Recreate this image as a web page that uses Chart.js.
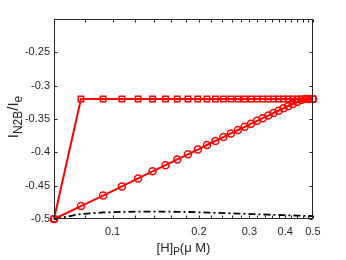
<!DOCTYPE html>
<html>
<head>
<meta charset="utf-8">
<script src="https://cdn.jsdelivr.net/npm/chart.js@4.4.0/dist/chart.umd.min.js"></script>
<style>
  html, body { margin: 0; padding: 0; background: #fff; }
  #wrap { width: 346px; height: 260px; }
</style>
</head>
<body>
<div id="wrap"><canvas id="myChart" width="346" height="260"></canvas></div>
<script>
// [H]_P values (uM) shared by all three curves
const hConc = [0.0625, 0.0776, 0.0927, 0.1078, 0.1228, 0.1379, 0.153, 0.1681, 0.1832, 0.1983,
    0.2134, 0.2284, 0.2435, 0.2586, 0.2737, 0.2888, 0.3039, 0.319, 0.3341, 0.3491,
    0.3642, 0.3793, 0.3944, 0.4095, 0.4246, 0.4397, 0.4547, 0.4698, 0.4849, 0.5];

const squareVals = [-0.5, -0.32, -0.32, -0.32, -0.32, -0.32, -0.32, -0.32, -0.32, -0.32,
    -0.32, -0.32, -0.32, -0.32, -0.32, -0.32, -0.32, -0.32, -0.32, -0.32,
    -0.32, -0.32, -0.32, -0.32, -0.32, -0.32, -0.32, -0.32, -0.32, -0.32];

const circleVals = [-0.5, -0.4806, -0.4648, -0.4512, -0.4392, -0.4285, -0.4192, -0.4106, -0.403, -0.3958,
    -0.389, -0.3829, -0.3771, -0.3717, -0.3665, -0.3617, -0.3571, -0.3528, -0.3487, -0.3448,
    -0.341, -0.3375, -0.334, -0.3307, -0.3275, -0.3244, -0.3215, -0.32, -0.32, -0.32];

const dashVals = [-0.5, -0.4925, -0.4902, -0.4893, -0.489, -0.4889, -0.489, -0.4892, -0.4895, -0.4899,
    -0.4903, -0.4907, -0.4911, -0.4915, -0.4919, -0.4922, -0.4926, -0.4929, -0.4932, -0.4935,
    -0.4938, -0.494, -0.4943, -0.4945, -0.4947, -0.4949, -0.4951, -0.4953, -0.4955, -0.4957];

const xTicks = [0.08, 0.1, 0.12, 0.14, 0.16, 0.18, 0.2, 0.22, 0.24, 0.26, 0.28, 0.3,
    0.32, 0.34, 0.36, 0.38, 0.4, 0.42, 0.44, 0.46, 0.48, 0.5];
const xTickLabels = ["0.1", "0.2", "0.3", "0.4", "0.5"];
const yTicks = [-0.5, -0.45, -0.4, -0.35, -0.3, -0.25, -0.2];
const yTickLabels = ["-0.5", "-0.45", "-0.4", "-0.35", "-0.3", "-0.25"];

const axisColor = "#262626";
const fontFamily = "'Liberation Sans', Arial, Helvetica, sans-serif";

const toPoints = (vals) => hConc.map((x, i) => ({ x, y: vals[i] }));

const labelFor = (list, value) => {
    const hit = list.find(l => Math.abs(parseFloat(l) - value) < 1e-6);
    return hit === undefined ? "" : hit;
};

// draw a run of normal + subscript text, centred on (0,0) of current transform
const drawRich = (ctx, parts, size, subSize, drop) => {
    const widths = parts.map(p => {
        ctx.font = (p.sub ? subSize : size) + "px " + fontFamily;
        return ctx.measureText(p.t).width;
    });
    const total = widths.reduce((a, b) => a + b, 0);
    let x = -total / 2;
    parts.forEach((p, i) => {
        ctx.font = (p.sub ? subSize : size) + "px " + fontFamily;
        ctx.fillText(p.t, x, p.sub ? drop : 0);
        x += widths[i];
    });
};

const framePlugin = {
    id: "frame",
    afterDraw(chart) {
        const { ctx, chartArea: a, scales } = chart;
        const L = Math.round(a.left) + 0.5, R = Math.round(a.right) - 0.5;
        const T = Math.round(a.top) + 0.5, B = Math.round(a.bottom) - 0.5;
        ctx.save();
        ctx.strokeStyle = axisColor;
        ctx.lineWidth = 1;
        ctx.strokeRect(L, T, R - L, B - T);
        ctx.beginPath();
        xTicks.forEach(v => {
            const px = Math.round(scales.x.getPixelForValue(v)) + 0.5;
            ctx.moveTo(px, B); ctx.lineTo(px, B - 3);
            ctx.moveTo(px, T); ctx.lineTo(px, T + 3);
        });
        yTicks.forEach(v => {
            const py = Math.round(scales.y.getPixelForValue(v)) + 0.5;
            ctx.moveTo(L, py); ctx.lineTo(L + 3, py);
            ctx.moveTo(R, py); ctx.lineTo(R - 3, py);
        });
        ctx.stroke();

        ctx.fillStyle = axisColor;
        ctx.textBaseline = "alphabetic";
        ctx.translate((a.left + a.right) / 2, 252);
        drawRich(ctx, [{ t: "[H]" }, { t: "P", sub: true }, { t: "(\u03bc M)" }], 13, 10, 3);
        ctx.restore();

        ctx.save();
        ctx.fillStyle = axisColor;
        ctx.translate(18, (a.top + a.bottom) / 2 - 2);
        ctx.rotate(-Math.PI / 2);
        drawRich(ctx, [{ t: "I" }, { t: "N2B", sub: true }, { t: "/I" }, { t: "e", sub: true }], 15, 12, 4);
        ctx.restore();
    }
};

new Chart(document.querySelector("#myChart"), {
    type: "line",
    data: {
        datasets: [
            {
                data: toPoints(squareVals),
                borderColor: "#ff0000",
                borderWidth: 2,
                pointStyle: "rect",
                pointRadius: 3.8,
                pointBorderWidth: 1.5,
                pointBorderColor: "#ff0000",
                pointBackgroundColor: "transparent",
                clip: false
            },
            {
                data: toPoints(circleVals),
                borderColor: "#ff0000",
                borderWidth: 2,
                pointStyle: "circle",
                pointRadius: 3.5,
                pointBorderWidth: 1.5,
                pointBorderColor: "#ff0000",
                pointBackgroundColor: "transparent",
                clip: false
            },
            {
                data: toPoints(dashVals),
                borderColor: "#000000",
                borderWidth: 1.8,
                borderDash: [7, 3, 2, 3],
                pointRadius: 0,
                clip: false
            }
        ]
    },
    options: {
        responsive: false,
        animation: false,
        devicePixelRatio: 1,
        layout: { padding: { top: 19, right: 33, left: 0, bottom: 0 } },
        plugins: { legend: { display: false }, tooltip: { enabled: false } },
        elements: { line: { tension: 0 } },
        scales: {
            x: {
                type: "logarithmic",
                min: 0.0625,
                max: 0.5,
                grid: { display: false, drawTicks: false },
                border: { display: false },
                afterBuildTicks: (scale) => {
                    scale.ticks = xTicks.map(v => ({ value: v }));
                },
                afterFit: (scale) => { scale.height = 41; },
                ticks: {
                    autoSkip: false,
                    maxRotation: 0,
                    padding: 6,
                    color: axisColor,
                    font: { family: fontFamily, size: 11 },
                    callback: (value) => labelFor(xTickLabels, value)
                }
            },
            y: {
                min: -0.5,
                max: -0.2,
                grid: { display: false, drawTicks: false },
                border: { display: false },
                afterBuildTicks: (scale) => {
                    scale.ticks = yTicks.map(v => ({ value: v }));
                },
                afterFit: (scale) => { scale.width = 54; },
                ticks: {
                    autoSkip: false,
                    padding: 4,
                    color: axisColor,
                    font: { family: fontFamily, size: 11 },
                    callback: (value) => labelFor(yTickLabels, value)
                }
            }
        }
    },
    plugins: [framePlugin]
});
</script>
</body>
</html>
